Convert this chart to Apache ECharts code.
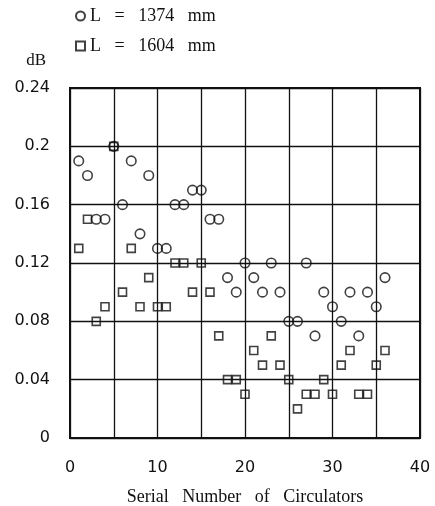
<!DOCTYPE html>
<html>
<head>
<meta charset="utf-8">
<script src="https://cdn.jsdelivr.net/npm/echarts@6/dist/echarts.min.js"></script>
<style>
  html, body { margin: 0; padding: 0; background: #fff; }
  #chart { width: 435px; height: 506px; }
</style>
</head>
<body>
<div id="chart"></div>
<script>
// serial numbers of the circulators
var serial = [1, 2, 3, 4, 5, 6, 7, 8, 9, 10, 11, 12, 13, 14, 15, 16, 17, 18,
  19, 20, 21, 22, 23, 24, 25, 26, 27, 28, 29, 30, 31, 32, 33, 34, 35, 36]
// L = 1374 mm
var loss1374 = [0.19, 0.18, 0.15, 0.15, 0.20, 0.16, 0.19, 0.14, 0.18, 0.13, 0.13, 0.16,
  0.16, 0.17, 0.17, 0.15, 0.15, 0.11, 0.10, 0.12, 0.11, 0.10, 0.12, 0.10, 0.08, 0.08,
  0.12, 0.07, 0.10, 0.09, 0.08, 0.10, 0.07, 0.10, 0.09, 0.11]
// L = 1604 mm
var loss1604 = [0.13, 0.15, 0.08, 0.09, 0.20, 0.10, 0.13, 0.09, 0.11, 0.09, 0.09, 0.12,
  0.12, 0.10, 0.12, 0.10, 0.07, 0.04, 0.04, 0.03, 0.06, 0.05, 0.07, 0.05, 0.04, 0.02,
  0.03, 0.03, 0.04, 0.03, 0.05, 0.06, 0.03, 0.03, 0.05, 0.06]
var yTicks = [0, 0.04, 0.08, 0.12, 0.16, 0.2, 0.24]
var seriesNames = ['L   =   1374   mm', 'L   =   1604   mm']

function pairs (ys) {
  return serial.map(function (x, i) { return [x, ys[i]] })
}

var chart = echarts.init(document.getElementById('chart'))
var markStyle = {color: 'rgba(0,0,0,0)', borderColor: '#111', borderWidth: 1.6}
var tickFont = {fontFamily: 'DejaVu Sans', fontSize: 16, color: '#111'}
var serif = 'Liberation Serif'

chart.setOption({
  animation: false,
  backgroundColor: '#fff',
  legend: {
    orient: 'vertical', left: 70, top: 2, itemGap: 12, itemWidth: 9, itemHeight: 9,
    textStyle: {fontFamily: serif, fontSize: 18, color: '#111'},
    data: [
      {name: seriesNames[0], icon: 'circle'},
      {name: seriesNames[1], icon: 'rect'}
    ]
  },
  grid: {
    left: 70, right: 15, top: 88, bottom: 68, show: true, borderColor: '#111', borderWidth: 2,
    outerBoundsMode: 'none'
  },
  xAxis: {
    type: 'value', min: 0, max: 40, interval: 5,
    name: 'Serial   Number   of   Circulators', nameLocation: 'middle', nameGap: 50,
    nameTextStyle: {fontFamily: serif, fontSize: 18, color: '#111'},
    axisLine: {lineStyle: {color: '#111', width: 2}},
    axisTick: {show: false},
    axisLabel: Object.assign({margin: 22, formatter: function (v) { return v % 10 === 0 ? v : '' }}, tickFont),
    splitLine: {lineStyle: {color: '#111', width: 1.3}}
  },
  yAxis: {
    type: 'value', min: yTicks[0], max: yTicks[yTicks.length - 1], interval: 0.04,
    name: 'dB', nameGap: 19,
    nameTextStyle: {fontFamily: serif, fontSize: 17, color: '#111', align: 'right', padding: [0, 24, 0, 0]},
    axisLine: {show: true, lineStyle: {color: '#111', width: 2}},
    axisTick: {show: false},
    axisLabel: Object.assign({margin: 20}, tickFont),
    splitLine: {lineStyle: {color: '#111', width: 1.3}}
  },
  series: [
    {name: seriesNames[0], type: 'scatter', symbol: 'circle', symbolSize: 9.5, itemStyle: markStyle, data: pairs(loss1374)},
    {name: seriesNames[1], type: 'scatter', symbol: 'rect', symbolSize: 8, itemStyle: markStyle, data: pairs(loss1604)}
  ]
})
</script>
</body>
</html>
